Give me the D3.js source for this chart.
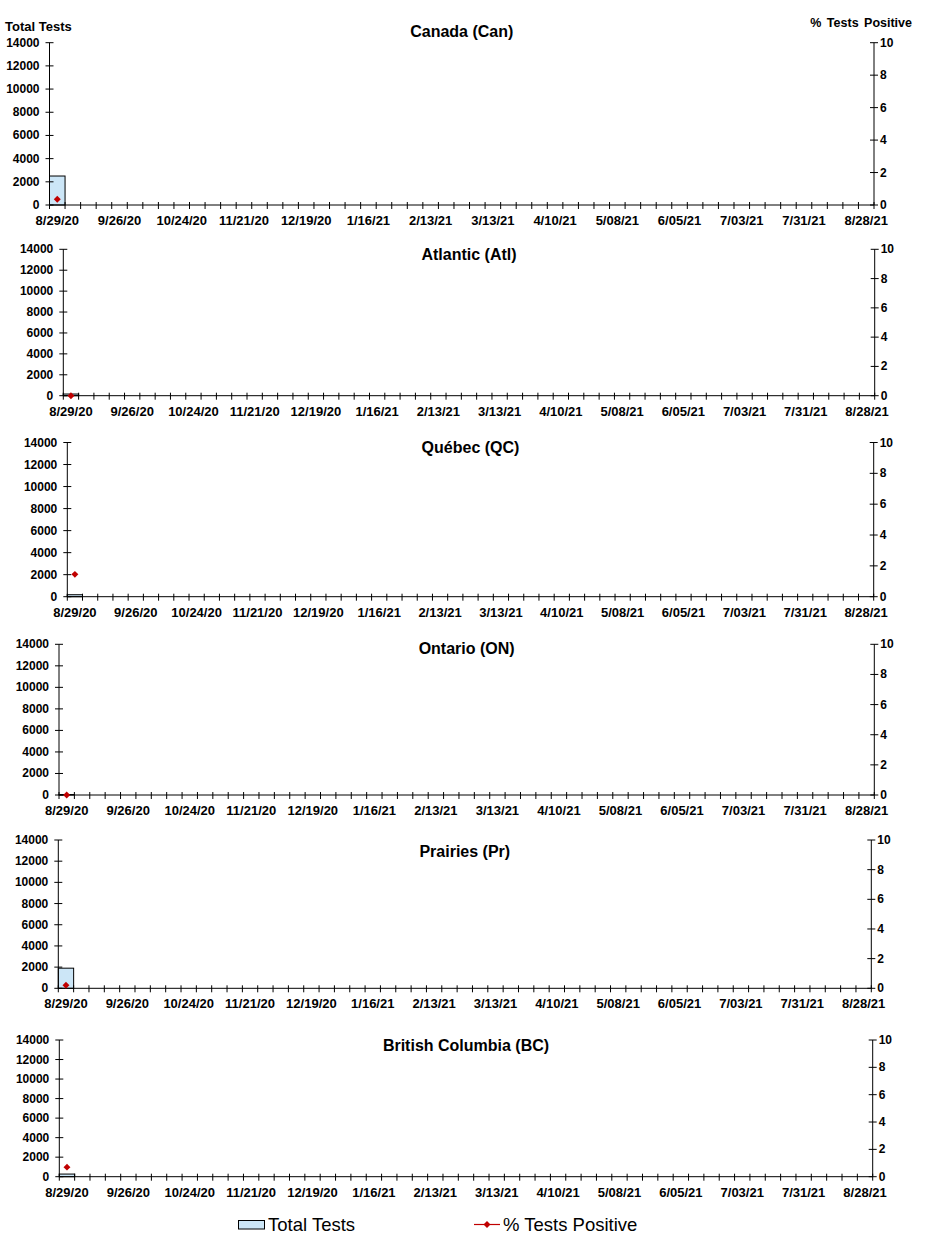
<!DOCTYPE html>
<html>
<head>
<meta charset="utf-8">
<title>Weekly tests by region</title>
<script src="https://cdn.jsdelivr.net/npm/d3@7"></script>
<style>
    body { margin: 0; background: #FFF; }
    text { font-family: "Liberation Sans", Arial, sans-serif; fill: #000; }
    .tick-lbl { font-size: 12px; font-weight: bold; }
    .x-lbl { font-size: 13px; font-weight: bold; }
    .ttl { font-size: 16px; font-weight: bold; }
</style>
</head>
<body>
<script>
    var W = 931, H = 1247;

    // weekly categories (week starting)
    var weeks = ['8/29/20','9/05/20','9/12/20','9/19/20','9/26/20','10/03/20','10/10/20','10/17/20',
        '10/24/20','10/31/20','11/07/20','11/14/20','11/21/20','11/28/20','12/05/20','12/12/20',
        '12/19/20','12/26/20','1/02/21','1/09/21','1/16/21','1/23/21','1/30/21','2/06/21',
        '2/13/21','2/20/21','2/27/21','3/06/21','3/13/21','3/20/21','3/27/21','4/03/21',
        '4/10/21','4/17/21','4/24/21','5/01/21','5/08/21','5/15/21','5/22/21','5/29/21',
        '6/05/21','6/12/21','6/19/21','6/26/21','7/03/21','7/10/21','7/17/21','7/24/21',
        '7/31/21','8/07/21','8/14/21','8/21/21','8/28/21'];

    // labelled weeks on the x axis
    var weekLabels = ['8/29/20','9/26/20','10/24/20','11/21/20','12/19/20','1/16/21','2/13/21',
        '3/13/21','4/10/21','5/08/21','6/05/21','7/03/21','7/31/21','8/28/21'];

    var regions = ['Canada (Can)','Atlantic (Atl)','Québec (QC)','Ontario (ON)','Prairies (Pr)','British Columbia (BC)'];

    // reported weeks only (first week of the season)
    var totalCan = [2500], pctCan = [0.35];
    var totalAtl = [160],  pctAtl = [0];
    var totalQC  = [180],  pctQC  = [1.45];
    var totalON  = [40],   pctON  = [0];
    var totalPr  = [1900], pctPr  = [0.2];
    var totalBC  = [270],  pctBC  = [0.7];

    var totals = [totalCan, totalAtl, totalQC, totalON, totalPr, totalBC];
    var pcts = [pctCan, pctAtl, pctQC, pctON, pctPr, pctBC];

    var leftTicks = [0,2000,4000,6000,8000,10000,12000,14000];
    var rightTicks = [0,2,4,6,8,10];

    // panel boxes (measured off the page)
    var boxes = [
        {l: 49.5, r: 874,   t: 42.7,  b: 205,   ty: 36.5},
        {l: 63.3, r: 874.7, t: 249.3, b: 395.7, ty: 259.5},
        {l: 67.3, r: 873.7, t: 442.5, b: 596.7, ty: 452.5},
        {l: 59,   r: 874.3, t: 644.3, b: 795,   ty: 653.5},
        {l: 58.3, r: 871.3, t: 840,   b: 988.3, ty: 856.5},
        {l: 59.3, r: 872.7, t: 1040,  b: 1176.7, ty: 1050.5}
    ];

    var red = '#C00000', barFill = '#CCE6F7';

    var svg = d3.select('body').append('svg')
        .attr('width', W).attr('height', H);

    function diamond(g, cx, cy) {
        g.append('path')
            .attr('d', d3.symbol(d3.symbolSquare, 24)())
            .attr('transform', 'translate(' + cx + ',' + cy + ') rotate(45)')
            .attr('fill', red);
    }

    regions.forEach(function(name, k) {
        var bx = boxes[k];
        var g = svg.append('g');

        var x = d3.scaleBand().domain(weeks).range([bx.l, bx.r]).padding(0);
        var y = d3.scaleLinear().domain([0, 14000]).range([bx.b, bx.t]);
        var y2 = d3.scaleLinear().domain([0, 10]).range([bx.b, bx.t]);

        // bars
        g.selectAll('rect.bar')
            .data(totals[k])
            .enter().append('rect')
            .attr('class', 'bar')
            .attr('x', function(d, i){ return x(weeks[i]); })
            .attr('y', function(d){ return y(d); })
            .attr('width', x.bandwidth())
            .attr('height', function(d){ return bx.b - y(d); })
            .attr('fill', barFill)
            .attr('stroke', '#000')
            .attr('stroke-width', 1);

        // axis lines
        g.append('line').attr('x1', bx.l).attr('x2', bx.r).attr('y1', bx.b).attr('y2', bx.b).attr('stroke', '#000');
        g.append('line').attr('x1', bx.l).attr('x2', bx.l).attr('y1', bx.t).attr('y2', bx.b).attr('stroke', '#000');
        g.append('line').attr('x1', bx.r).attr('x2', bx.r).attr('y1', bx.t).attr('y2', bx.b).attr('stroke', '#000');

        // x ticks at week boundaries
        var bounds = weeks.map(function(w){ return x(w); }).concat([bx.r]);
        g.selectAll('line.xt').data(bounds).enter().append('line')
            .attr('x1', function(d){ return d; }).attr('x2', function(d){ return d; })
            .attr('y1', bx.b - 3).attr('y2', bx.b + 4)
            .attr('stroke', '#000');

        g.selectAll('text.xl').data(weekLabels).enter().append('text')
            .attr('class', 'x-lbl')
            .attr('x', function(d){ return x(d) + x.bandwidth() / 2; })
            .attr('y', bx.b + 20)
            .attr('text-anchor', 'middle')
            .text(function(d){ return d; });

        // left axis
        g.selectAll('line.yt').data(leftTicks).enter().append('line')
            .attr('x1', bx.l - 4).attr('x2', bx.l + 4)
            .attr('y1', function(d){ return y(d); }).attr('y2', function(d){ return y(d); })
            .attr('stroke', '#000');
        g.selectAll('text.yl').data(leftTicks).enter().append('text')
            .attr('class', 'tick-lbl')
            .attr('x', bx.l - 10)
            .attr('y', function(d){ return y(d) + 4; })
            .attr('text-anchor', 'end')
            .text(function(d){ return d; });

        // right axis
        g.selectAll('line.y2t').data(rightTicks).enter().append('line')
            .attr('x1', bx.r - 4).attr('x2', bx.r + 4)
            .attr('y1', function(d){ return y2(d); }).attr('y2', function(d){ return y2(d); })
            .attr('stroke', '#000');
        g.selectAll('text.y2l').data(rightTicks).enter().append('text')
            .attr('class', 'tick-lbl')
            .attr('x', bx.r + 6)
            .attr('y', function(d){ return y2(d) + 4; })
            .text(function(d){ return d; });

        // % positive markers
        pcts[k].forEach(function(p, i) {
            diamond(g, x(weeks[i]) + x.bandwidth() / 2, y2(p));
        });

        g.append('text')
            .attr('class', 'ttl')
            .attr('x', (bx.l + bx.r) / 2)
            .attr('y', bx.ty)
            .attr('text-anchor', 'middle')
            .text(name);
    });

    // axis headers
    svg.append('text').attr('x', 5).attr('y', 30.5)
        .style('font-size', '13px').style('font-weight', 'bold')
        .text('Total Tests');
    svg.append('text').attr('x', 912).attr('y', 27)
        .attr('text-anchor', 'end')
        .style('font-size', '12.5px').style('font-weight', 'bold').style('word-spacing', '2px')
        .text('% Tests Positive');

    /* LEGEND */
    var lg = svg.append('g');
    lg.append('rect').attr('x', 238.5).attr('y', 1220.5).attr('width', 26).attr('height', 8.5)
        .attr('fill', barFill).attr('stroke', '#000');
    lg.append('text').attr('x', 268).attr('y', 1231).style('font-size', '18.5px').text('Total Tests');
    lg.append('line').attr('x1', 474).attr('x2', 500).attr('y1', 1224.5).attr('y2', 1224.5)
        .attr('stroke', red).attr('stroke-width', 1.2);
    diamond(lg, 487, 1224.5);
    lg.append('text').attr('x', 503).attr('y', 1231).style('font-size', '18.5px').text('% Tests Positive');
</script>
</body>
</html>
